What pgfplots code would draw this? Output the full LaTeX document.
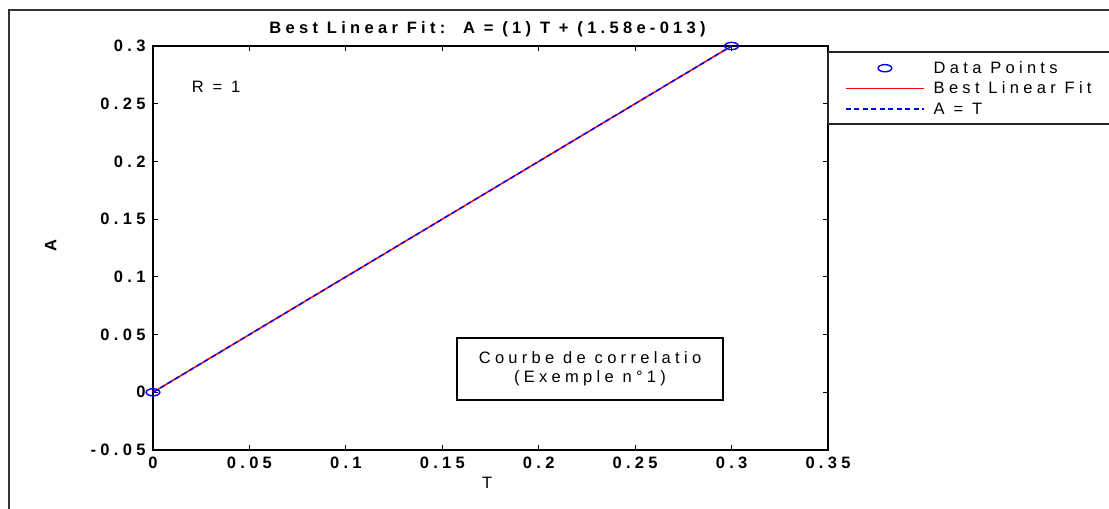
\documentclass[border=0pt]{standalone}
\usepackage{fontspec}
\setmainfont{Liberation Sans}[LetterSpace=26]
\usepackage{pgfplots}
\pgfplotsset{compat=1.18}
\definecolor{mblue}{RGB}{0,0,255}
\definecolor{mred}{RGB}{255,0,0}
\begin{document}
\begin{tikzpicture}
\useasboundingbox (0,0) rectangle (1109bp,509bp);
\draw[line width=1.5bp, black!80] (9bp,-5bp) -- (9bp,499bp) -- (1120bp,499bp);
\begin{axis}[
  at={(153bp,59bp)}, anchor=south west,
  scale only axis, width=675bp, height=404bp,
  xmin=0, xmax=0.35, ymin=-0.05, ymax=0.3,
  axis line style={line width=1.6bp},
  every tick/.style={black, line width=1.2bp},
  tick align=inside, major tick length=5bp,
  xtick={0,0.05,0.1,0.15,0.2,0.25,0.3,0.35},
  xticklabels={0,0.05,0.1,0.15,0.2,0.25,0.3,0.35},
  ytick={-0.05,0,0.05,0.1,0.15,0.2,0.25,0.3},
  yticklabels={-0.05,0,0.05,0.1,0.15,0.2,0.25,0.3},
  ticklabel style={font=\fontsize{16.5bp}{18bp}\selectfont\bfseries},
  xticklabel style={yshift=-3bp},
  yticklabel style={xshift=-4bp},
  title={Best Linear Fit:\ \ A = (1) T + (1.58e-013)},
  title style={at={(axis description cs:0.4957,1.027)}, anchor=center, font=\fontsize{16.5bp}{18bp}\selectfont\bfseries},
  xlabel={T}, ylabel={A},
  xlabel style={at={(axis description cs:0.495,-0.082)}, anchor=center, font=\fontsize{16.5bp}{18bp}\selectfont},
  ylabel style={at={(axis description cs:-0.1515,0.507)}, anchor=center, font=\fontsize{16.5bp}{18bp}\selectfont\bfseries},
  legend image code/.code={\draw[mark repeat=2,mark phase=2] plot coordinates {(0bp,0bp) (39bp,0bp) (78bp,0bp)};},
  legend style={draw=none, fill=none, at={(axis description cs:1.0252,0.9709)}, anchor=north west,
    inner sep=0pt, row sep=0pt,
    font=\fontsize{16.5bp}{18bp}\selectfont,
    nodes={inner sep=0pt, minimum height=20.5bp},
    /tikz/every odd column/.append style={column sep=9bp}},
  legend cell align=left,
  clip=false,
]
\addplot[only marks, mblue, mark=o, mark size=3.6bp, mark options={xscale=1.9, line width=1.4bp}] coordinates {(0,0) (0.3,0.3)};
\addlegendentry{Data Points}
\addplot[mred, line width=1.5bp, mark=none] coordinates {(0,0) (0.3,0.3)};
\addlegendentry{Best Linear Fit}
\addplot[mblue, line width=1.5bp, dash pattern=on 5bp off 3.5bp, mark=none] coordinates {(0,0) (0.3,0.3)};
\addlegendentry{A = T}
\node[font=\fontsize{16.5bp}{18bp}\selectfont] at (axis cs:0.0327,0.2645) {R = 1};
\node[draw, line width=1.4bp, minimum width=266bp, minimum height=62bp, align=center,
  font=\fontsize{16.5bp}{19bp}\selectfont] at (axis cs:0.2266,0.0201) {Courbe de correlatio\\(Exemple n\textdegree 1)};
\end{axis}
\draw[line width=1.6bp, black!85] (828bp,457bp) -- (1120bp,457bp);
\draw[line width=1.6bp, black!85] (828bp,385bp) -- (1120bp,385bp);
\draw[line width=1.6bp, black!85] (828bp,385bp) -- (828bp,457bp);
\end{tikzpicture}
\end{document}
